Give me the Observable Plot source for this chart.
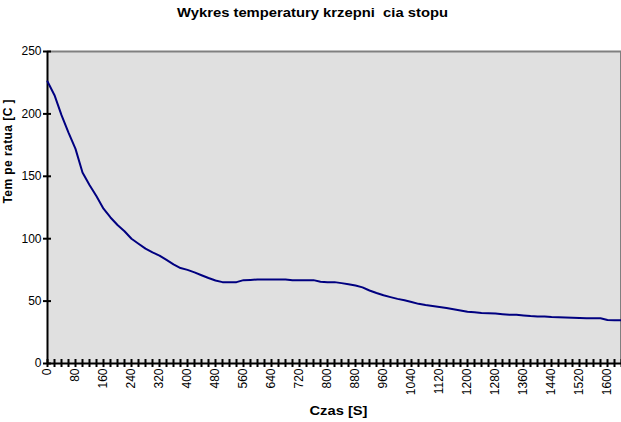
<!DOCTYPE html>
<html>
<head>
<meta charset="utf-8">
<script src="https://cdn.jsdelivr.net/npm/d3@7"></script>
<script src="https://cdn.jsdelivr.net/npm/@observablehq/plot@0.6"></script>
<style>
  html, body { margin: 0; padding: 0; background: #fff; }
  #chart { position: relative; width: 621px; height: 422px; }
  svg { font-family: "Liberation Sans", Arial, sans-serif; }
</style>
</head>
<body>
<div id="chart"></div>
<script>
const title = "Wykres temperatury krzepni\u00a0 cia stopu";
const xLabel = "Czas [S]";
const yLabel = "Tem pe ratua [C ]";
const times = d3.range(0, 1641, 20);
const temps = [
  226, 215, 199, 185, 172, 153, 143, 134, 124, 117,
  111, 106, 100, 96, 92, 89, 86.5, 83, 79.5, 76.5,
  75, 73, 70.7, 68.5, 66.5, 65.2, 65.2, 65.2, 66.8, 67,
  67.3, 67.3, 67.3, 67.3, 67.3, 66.8, 66.8, 66.8, 66.8, 65.5,
  65.2, 65.2, 64.4, 63.5, 62.5, 61, 58.5, 56.5, 54.7, 53.2,
  51.8, 50.6, 49.3, 47.8, 46.8, 46, 45.3, 44.5, 43.5, 42.5,
  41.4, 41, 40.5, 40.3, 40, 39.5, 39, 39, 38.5, 38,
  37.7, 37.7, 37.2, 37, 36.9, 36.7, 36.5, 36.3, 36.3, 36.3,
  34.8, 34.7, 34.7
];
const xTickLabels = d3.range(0, 1601, 80);
const yTicks = [0, 50, 100, 150, 200, 250];

const data = times.map((t, i) => ({t, v: temps[i]}));

const chart = Plot.plot({
  width: 621,
  height: 422,
  marginLeft: 47,
  marginRight: 0,
  marginTop: 51,
  marginBottom: 59,
  style: {fontFamily: "Liberation Sans, Arial, sans-serif", fontSize: "11px", color: "#000", background: "#fff"},
  x: {domain: [0, 1640]},
  y: {domain: [0, 250]},
  marks: [
    Plot.frame({fill: "#e0e0e0", stroke: null}),
    Plot.ruleY([250], {stroke: "#808080", strokeWidth: 2}),
    Plot.ruleX([1640], {stroke: "#808080", strokeWidth: 3}),
    Plot.axisX({ticks: times, tickSize: 8, dy: -4, tickFormat: () => "", strokeWidth: 2, stroke: "#000", label: null}),
    Plot.axisX({ticks: xTickLabels, tickSize: 0, tickPadding: 5, tickRotate: -90, tickFormat: d => String(d), fontSize: 12, fill: "#000", label: null}),
    Plot.axisY({ticks: yTicks, tickSize: 8, dx: 4, strokeWidth: 2, stroke: "#000", tickPadding: 2, tickFormat: d => String(d), fontSize: 12, fill: "#000", label: null}),
    Plot.ruleX([0], {stroke: "#000", strokeWidth: 2}),
    Plot.ruleY([0], {stroke: "#000", strokeWidth: 2}),
    Plot.line(data, {x: "t", y: "v", stroke: "#000080", strokeWidth: 2}),
    Plot.text([yLabel], {frameAnchor: "left", dx: -39, dy: -4, rotate: -90, fontWeight: "bold", fontSize: 12, fill: "#000"}),
    Plot.text([xLabel], {frameAnchor: "bottom", dy: 51, dx: 4, fontWeight: "bold", fontSize: 13, fill: "#000"}),
    Plot.text([title], {frameAnchor: "top", dy: -44, dx: -22, fontWeight: "bold", fontSize: 13, fill: "#000"})
  ]
});
document.getElementById("chart").appendChild(chart);
const fits = new Map([[yLabel, [104, "spacing"]], [xLabel, [58, "spacingAndGlyphs"]], [title, [271, "spacingAndGlyphs"]]]);
d3.select(chart).selectAll("text").each(function() {
  const f = fits.get(this.textContent);
  if (f) d3.select(this).attr("textLength", f[0]).attr("lengthAdjust", f[1]);
});
</script>
</body>
</html>
